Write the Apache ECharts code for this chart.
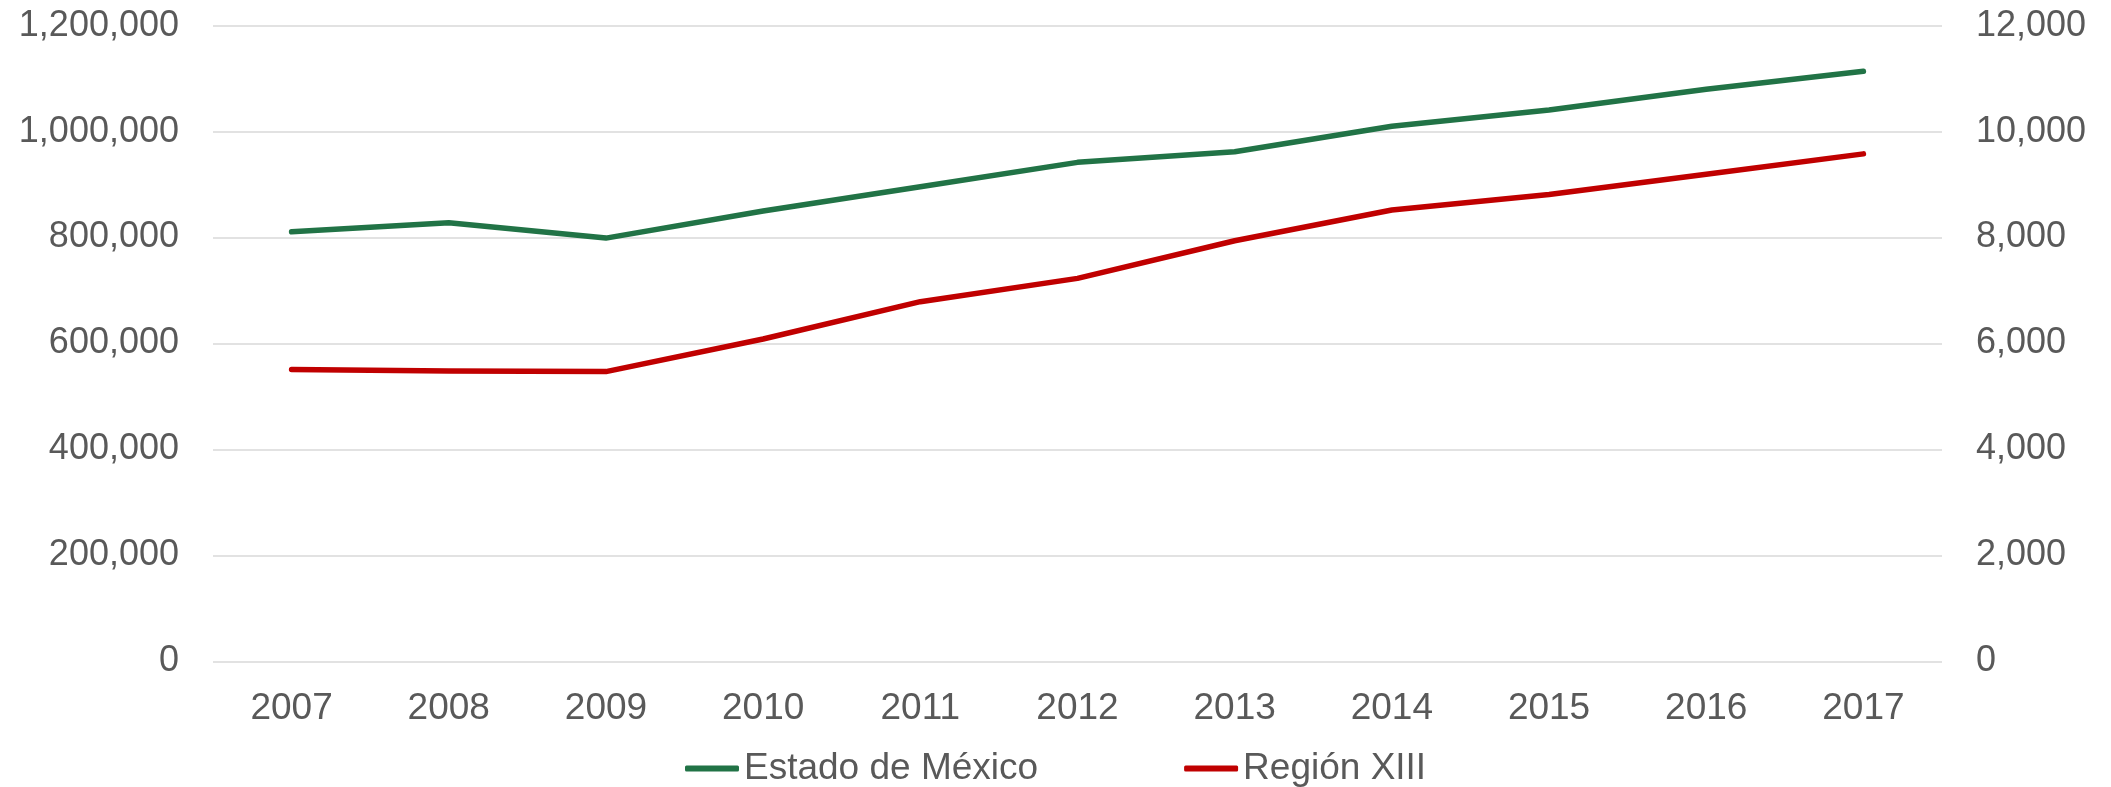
<!DOCTYPE html>
<html>
<head>
<meta charset="utf-8">
<script src="https://cdn.jsdelivr.net/npm/echarts@6/dist/echarts.min.js"></script>
<style>
  html, body { margin: 0; padding: 0; background: #fff; }
</style>
</head>
<body>
<div id="chart" style="width: 2111px; height: 787px"></div>
<script>
var years = ['2007', '2008', '2009', '2010', '2011', '2012', '2013', '2014', '2015', '2016', '2017']
var estadoMexico = [811000, 828000, 799000, 850000, 896000, 942000, 962000, 1010000, 1041000, 1080000, 1114000]
var regionXIII = [5510, 5480, 5470, 6085, 6790, 7230, 7940, 8520, 8815, 9195, 9580]
var seriesNames = ['Estado de México', 'Región XIII']

var textColor = '#595959'
var fontFamily = 'Liberation Sans, Arial, sans-serif'
var fmt = function (v) { return v.toLocaleString('en-US') }

var myChart = echarts.init(document.getElementById('chart'))
myChart.setOption({
  animation: false,
  grid: {
    left: 213,
    right: 169,
    top: 25.7,
    bottom: 125.7,
    containLabel: false,
    outerBoundsMode: 'none'
  },
  legend: {
    data: seriesNames,
    left: 680,
    top: 745,
    itemGap: 146,
    itemWidth: 54,
    itemHeight: 6,
    icon: 'roundRect',
    textStyle: {
      color: textColor,
      fontFamily: fontFamily,
      fontSize: 37
    }
  },
  xAxis: {
    type: 'category',
    data: years,
    boundaryGap: true,
    axisLine: { show: false },
    axisTick: { show: false },
    axisLabel: {
      color: textColor,
      fontFamily: fontFamily,
      fontSize: 37,
      margin: 29,
      interval: 0
    }
  },
  yAxis: [
    {
      type: 'value',
      min: 0,
      max: 1200000,
      interval: 200000,
      axisLine: { show: false },
      axisTick: { show: false },
      axisLabel: {
        color: textColor,
        fontFamily: fontFamily,
        fontSize: 36,
        margin: 34,
        formatter: fmt
      },
      splitLine: { lineStyle: { color: '#d9d9d9', width: 1.5 } }
    },
    {
      type: 'value',
      min: 0,
      max: 12000,
      interval: 2000,
      axisLine: { show: false },
      axisTick: { show: false },
      axisLabel: {
        color: textColor,
        fontFamily: fontFamily,
        fontSize: 36,
        margin: 34,
        formatter: fmt
      },
      splitLine: { show: false }
    }
  ],
  series: [
    {
      name: seriesNames[0],
      type: 'line',
      data: estadoMexico,
      yAxisIndex: 0,
      symbol: 'none',
      itemStyle: { color: '#217346' },
      lineStyle: { color: '#217346', width: 5.5, cap: 'round', join: 'round' }
    },
    {
      name: seriesNames[1],
      type: 'line',
      data: regionXIII,
      yAxisIndex: 1,
      symbol: 'none',
      itemStyle: { color: '#c00000' },
      lineStyle: { color: '#c00000', width: 5.5, cap: 'round', join: 'round' }
    }
  ]
})
</script>
</body>
</html>
